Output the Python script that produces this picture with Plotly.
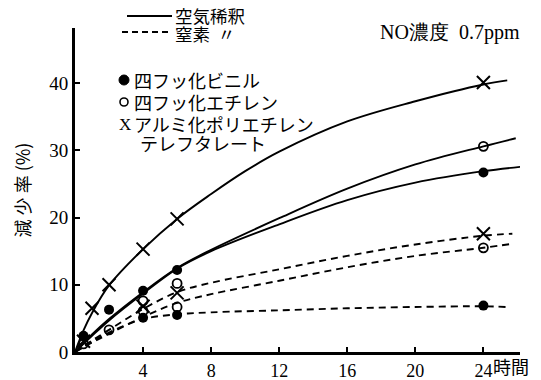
import plotly.graph_objects as go

# ---- smooth fitted curves (hours, reduction %) ----
curve_h_x_air = [0, 0.5, 1, 2, 4, 6, 8, 10, 12, 16, 20, 24, 25.4]
curve_x_air = [0, 3.2, 5.8, 9.9, 15.3, 19.8, 23.5, 26.9, 29.8, 34.3, 37.3, 39.8, 40.4]

curve_h_open_air = [0, 0.5, 1, 2, 4, 6, 8, 12, 16, 20, 24, 25.9]
curve_open_air = [0, 1.3, 2.6, 4.9, 8.9, 12.5, 15.2, 19.9, 24.3, 27.9, 30.6, 31.8]

curve_h_filled_air = [0, 0.5, 1, 2, 4, 6, 8, 12, 16, 20, 24, 26.4]
curve_filled_air = [0, 1.2, 2.4, 4.7, 8.7, 12.4, 15.0, 19.0, 22.6, 25.2, 26.9, 27.6]

curve_h_x_n2 = [0, 1, 2, 4, 6, 8, 12, 16, 20, 24, 25.7]
curve_x_n2 = [0, 1.7, 3.3, 6.4, 8.9, 10.3, 12.3, 14.3, 16.0, 17.3, 17.6]

curve_h_open_n2 = [0, 1, 2, 4, 6, 8, 12, 16, 20, 24, 25.7]
curve_open_n2 = [0, 1.4, 2.7, 5.2, 7.3, 8.6, 10.6, 12.6, 14.3, 15.5, 16.1]

curve_h_filled_n2 = [0, 1, 2, 4, 6, 8, 12, 16, 20, 24, 25.3]
curve_filled_n2 = [0, 1.5, 2.9, 4.9, 5.6, 5.9, 6.2, 6.5, 6.7, 6.8, 6.7]

# ---- measured points ----
pts_h_x_air = [1, 2, 4, 6, 24]
pts_x_air = [6.5, 10.0, 15.3, 19.8, 40.1]
pts_h_filled_air = [0.5, 2, 4, 6, 24]
pts_filled_air = [2.4, 6.3, 9.1, 12.2, 26.7]
pts_h_open_air = [4, 6, 24]
pts_open_air = [7.6, 10.2, 30.6]
pts_h_x_n2 = [0.5, 4, 6, 24]
pts_x_n2 = [1.6, 6.8, 8.8, 17.6]
pts_h_open_n2 = [0.5, 2, 4, 6, 24]
pts_open_n2 = [1.2, 3.3, 6.1, 6.7, 15.5]
pts_h_filled_n2 = [4, 6, 24]
pts_filled_n2 = [5.1, 5.5, 6.9]

x_tickvals = [4, 8, 12, 16, 20, 24]
x_ticktext = ["4", "8", "12", "16", "20", "24"]
y_tickvals = [0, 10, 20, 30, 40]
y_ticktext = ["0", "10", "20", "30", "40"]

X_MAX = 26.15
Y_MAX = 48.2

fig = go.Figure()

line_style = dict(color="black", width=1.9, shape="spline", smoothing=1.0)
for hx, vy in [(curve_h_x_air, curve_x_air), (curve_h_open_air, curve_open_air),
               (curve_h_filled_air, curve_filled_air)]:
    fig.add_trace(go.Scatter(x=hx, y=vy, mode="lines", line=line_style, showlegend=False))

dash_style = dict(color="black", width=1.9, dash="7px,5px", shape="spline", smoothing=1.0)
for hx, vy in [(curve_h_x_n2, curve_x_n2), (curve_h_open_n2, curve_open_n2),
               (curve_h_filled_n2, curve_filled_n2)]:
    fig.add_trace(go.Scatter(x=hx, y=vy, mode="lines", line=dash_style, showlegend=False))

filled = dict(symbol="circle", size=10, color="black")
hollow = dict(symbol="circle-open", size=9, color="black", line=dict(width=1.8, color="black"))
cross = dict(symbol="x-thin", size=13, color="black", line=dict(width=2, color="black"))

for hx, vy, mk in [(pts_h_x_air, pts_x_air, cross), (pts_h_filled_air, pts_filled_air, filled),
                   (pts_h_open_air, pts_open_air, hollow), (pts_h_x_n2, pts_x_n2, cross),
                   (pts_h_open_n2, pts_open_n2, hollow), (pts_h_filled_n2, pts_filled_n2, filled)]:
    fig.add_trace(go.Scatter(x=hx, y=vy, mode="markers", marker=mk, showlegend=False))

# pixel -> paper helpers for the key and captions
L, R, T, B = 75, 21, 28, 28
W, H = 541, 380
PW, PH = W - L - R, H - T - B


def px(x):
    return (x - L) / PW


def py(y):
    return (H - B - y) / PH


jp = "Noto Sans CJK JP"
serif = "Liberation Serif"

shapes = [
    dict(type="line", xref="paper", yref="paper", x0=px(127), x1=px(172), y0=py(16), y1=py(16),
         line=dict(color="black", width=1.8)),
    dict(type="line", xref="paper", yref="paper", x0=px(122), x1=px(170), y0=py(32), y1=py(32),
         line=dict(color="black", width=1.8, dash="6px,4px")),
    # key symbols: filled and hollow circles
    dict(type="circle", xref="paper", yref="paper", x0=px(119), x1=px(129), y0=py(75), y1=py(85),
         fillcolor="black", line=dict(color="black", width=1)),
    dict(type="circle", xref="paper", yref="paper", x0=px(120), x1=px(128), y0=py(98), y1=py(106),
         fillcolor="white", line=dict(color="black", width=1.6)),
]

annotations = [
    dict(text="空気稀釈", x=px(173), y=py(15), font=dict(family=jp, size=17.5)),
    dict(text="窒素  〃", x=px(173), y=py(34), font=dict(family=jp, size=17.5)),
    dict(text="NO濃度  0.7ppm", x=px(378), y=py(33), font=dict(family=serif, size=20)),
    dict(text="四フッ化ビニル", x=px(132), y=py(80), font=dict(family=jp, size=18)),
    dict(text="四フッ化エチレン", x=px(132), y=py(102), font=dict(family=jp, size=18)),
    dict(text="X", x=px(117), y=py(124), font=dict(family=serif, size=17)),
    dict(text="アルミ化ポリエチレン", x=px(132), y=py(124), font=dict(family=jp, size=18)),
    dict(text="テレフタレート", x=px(138), y=py(143), font=dict(family=jp, size=18)),
    dict(text="時間", x=px(491), y=py(366), font=dict(family=jp, size=18)),
]
for a in annotations:
    a["font"]["color"] = "black"
    a.update(xref="paper", yref="paper", xanchor="left", yanchor="middle", showarrow=False)

fig.update_layout(
    width=W, height=H,
    margin=dict(l=L, r=R, t=T, b=B, autoexpand=False),
    paper_bgcolor="white", plot_bgcolor="white",
    shapes=shapes, annotations=annotations,
    xaxis=dict(range=[0, X_MAX], showline=True, linecolor="black", linewidth=3,
               showgrid=False, zeroline=False, tickvals=x_tickvals, ticktext=x_ticktext,
               ticks="inside", ticklen=5, tickwidth=2, tickcolor="black", automargin=False,
               tickfont=dict(family=serif, size=18, color="black")),
    yaxis=dict(range=[0, Y_MAX], showline=True, linecolor="black", linewidth=3,
               showgrid=False, zeroline=False, tickvals=y_tickvals, ticktext=y_ticktext,
               ticks="inside", ticklen=5, tickwidth=2, tickcolor="black", automargin=False,
               tickfont=dict(family=serif, size=19, color="black"),
               title=dict(text="減 少 率 (%)", font=dict(family=jp, size=18, color="black"),
                          standoff=14)),
)

fig.write_html("out.html")
